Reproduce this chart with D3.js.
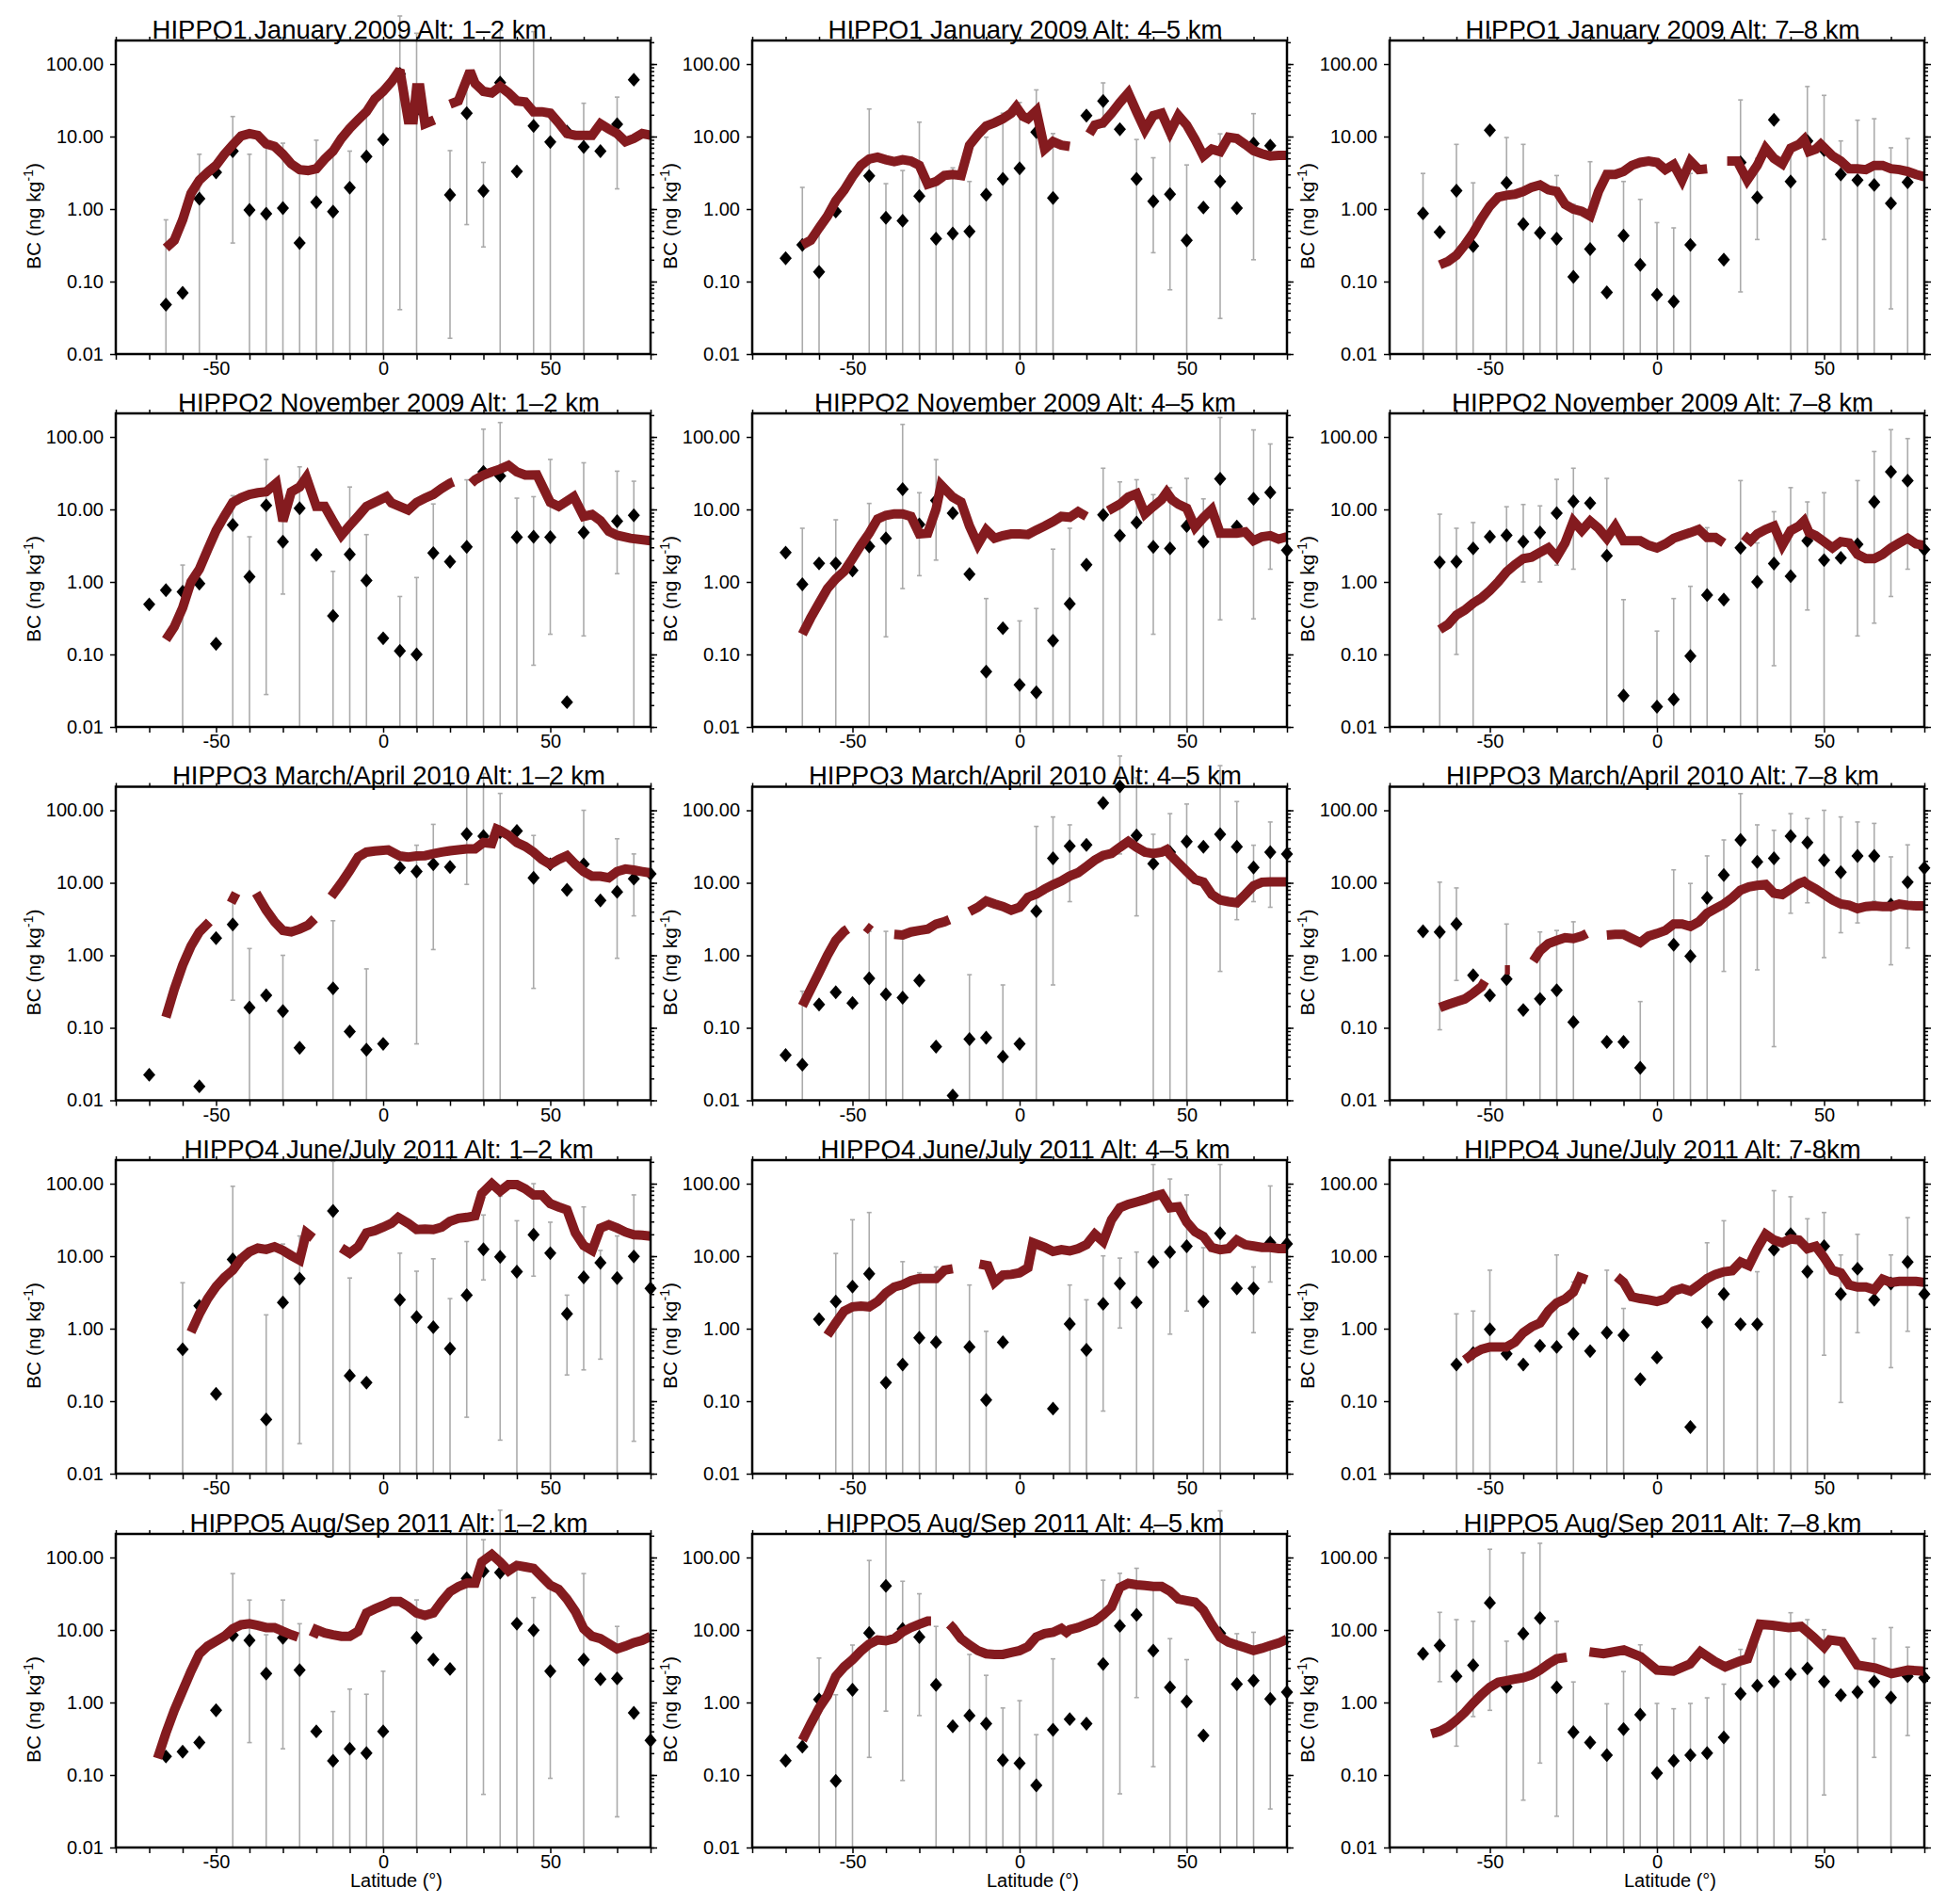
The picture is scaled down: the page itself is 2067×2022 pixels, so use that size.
<!DOCTYPE html>
<html><head><meta charset="utf-8">
<script src="https://cdn.jsdelivr.net/npm/d3@7"></script>
<style>body{margin:0;background:#fff}</style>
</head><body>
<svg id="c" width="2067" height="2022"></svg>
<script>
// ---------------- DATA ----------------
const titles = [
 "HIPPO1 January 2009 Alt: 1\u20132 km","HIPPO1 January 2009 Alt: 4\u20135 km","HIPPO1 January 2009 Alt: 7\u20138 km",
 "HIPPO2 November 2009 Alt: 1\u20132 km","HIPPO2 November 2009 Alt: 4\u20135 km","HIPPO2 November 2009 Alt: 7\u20138 km",
 "HIPPO3 March/April 2010 Alt: 1\u20132 km","HIPPO3 March/April 2010 Alt: 4\u20135 km","HIPPO3 March/April 2010 Alt: 7\u20138 km",
 "HIPPO4 June/July 2011 Alt: 1\u20132 km","HIPPO4 June/July 2011 Alt: 4\u20135 km","HIPPO4 June/July 2011 Alt: 7-8km",
 "HIPPO5 Aug/Sep 2011 Alt: 1\u20132 km","HIPPO5 Aug/Sep 2011 Alt: 4\u20135 km","HIPPO5 Aug/Sep 2011 Alt: 7\u20138 km"];
const yTickValues = [0.01, 0.1, 1, 10, 100];
const xTickValues = [-80,-70,-60,-50,-40,-30,-20,-10,0,10,20,30,40,50,60,70,80];
const xLabelValues = [-50, 0, 50];
const xLabel = "Latitude (\u00b0)";

// points: [lat, BC, errLow (0 = to axis), errHigh (null = no bar)]
const pts_h1_12 = [[-65,0.048,0,0.71],[-60,0.07,null,null],[-55,1.39,0,5.7],[-50,3.2,null,null],[-45,6.3,0.34,18.9],[-40,0.97,0,5.7],[-35,0.86,0,8.4],[-30,1.03,0,8.1],[-25,0.34,0,3.9],[-20,1.24,0,8.9],[-15,0.92,0,5.7],[-10,1.97,0,6.3],[-5,5.3,0,23],[0,9.1,0,40],[5,73,0.041,460],[10,23,0,266],[20,1.57,0.0165,6.4],[25,21,0.61,67],[30,1.78,0.30,4.4],[35,55.6,0,294],[40,3.3,null,null],[45,14,0,280],[50,8.4,0,19.3],[55,11.7,null,null],[60,7.2,0,28.8],[65,6.3,null,null],[70,14.8,1.9,35],[75,60.8,null,null]];
const line_h1_12 = [[-65,0.29],[-62.5,0.37],[-60,0.71],[-57.5,1.64],[-55,2.5],[-52.5,3.2],[-50,4.0],[-47.5,5.7],[-45,7.7],[-42.5,10.2],[-40,11],[-37.5,10.4],[-35,7.9],[-32.5,7.3],[-30,5.7],[-27.5,4.2],[-25,3.5],[-22.5,3.4],[-20,3.6],[-17.5,4.9],[-15,6.3],[-12.5,9.4],[-10,13],[-7.5,17],[-5,22],[-2.5,33],[0,42],[2.5,57],[5,83],[7.5,17],[9,17],[10,47],[11,47],[12.5,15],[15.3,17],null,[20,28],[22.5,31],[26,80],[27.5,54],[30,42],[32.5,40],[35,49],[37.5,40],[40,31],[42.5,30],[45,22],[47.5,22],[50,21],[52.5,15.5],[55,11],[57.5,10.4],[60,10.4],[62.5,10.4],[65,15],[67.5,12.7],[70,11],[72.5,8.5],[75,9.4],[77.5,11],[80,10.4]];

const pts_h1_45 = [[-70,0.21,null,null],[-65,0.32,0,1.99],[-60,0.136,0,0.63],[-55,0.93,null,null],[-45,2.86,0,24],[-40,0.76,0,2.24],[-35,0.69,0,3.4],[-30,1.51,0,15.8],[-25,0.39,0,2.4],[-20,0.46,0,3.7],[-15,0.49,0,2.4],[-10,1.58,0,9.8],[-5,2.6,0,21],[0,3.65,0,29.5],[5,11.5,0,44],[10,1.42,0,11],[20,19.5,null,null],[25,31,13.4,55],[30,12.6,null,null],[35,2.6,0,9.1],[40,1.28,0.25,5.1],[45,1.6,0.077,9.3],[50,0.37,0,4.06],[55,1.05,null,null],[60,2.4,0.031,10.9],[65,1.03,null,null],[70,8.0,0.2,20.7],[75,7.5,null,null]];
const line_h1_45 = [[-65,0.32],[-62.5,0.37],[-60,0.55],[-57.5,0.8],[-55,1.3],[-52.5,1.83],[-50,2.8],[-47.5,4.0],[-45,4.9],[-42.5,5.2],[-40,4.8],[-37.5,4.5],[-35,4.8],[-32.5,4.6],[-30,4.0],[-27.5,2.2],[-25,2.4],[-22.5,2.9],[-20,3.0],[-17.5,2.9],[-15,7.6],[-12.5,10.6],[-10,14],[-7.5,15.5],[-5,17.6],[-2.5,21],[-1,25.7],[1,19],[2.5,17.6],[5,22.7],[7.5,6.7],[10,8.5],[12.5,7.6],[15,7.3],null,[20.9,10.9],[22.5,14.4],[25,15.5],[27.5,21],[30,29.5],[32.5,40],[35,22],[37.5,12.4],[40,19.5],[42.5,21],[45,11.5],[47.5,19.5],[50,14.4],[52.5,9.1],[55,5.4],[57.5,6.7],[60,6.2],[62.5,9.8],[65,9.4],[67.5,7.8],[70,6.4],[72.5,5.8],[75,5.4],[77.5,5.5],[80,5.5]];

const pts_h1_78 = [[-70,0.87,0,3.1],[-65,0.48,null,null],[-60,1.79,0,7.8],[-55,0.31,0,2.3],[-50,12.2,null,null],[-45,2.3,0,9.7],[-40,0.62,0,7.8],[-35,0.47,0,2.15],[-30,0.39,0,2.9],[-25,0.116,0,1.16],[-20,0.28,0,4.5],[-15,0.071,null,null],[-10,0.43,0,2.4],[-5,0.17,0,1.36],[0,0.066,0,0.65],[5,0.053,0,0.55],[10,0.32,0,3.1],[20,0.2,null,null],[25,4.4,0.072,32],[30,1.44,0.38,5.0],[35,17,null,null],[40,2.4,0,6],[45,8.7,0,49],[50,6.5,0.38,37],[55,3.0,0,8.7],[60,2.5,0,16.8],[65,2.15,0,17.6],[70,1.2,0.042,7.0],[75,2.35,0,9.4]];
const line_h1_78 = [[-65,0.17],[-62.5,0.19],[-60,0.23],[-57.5,0.32],[-55,0.47],[-52.5,0.74],[-50,1.1],[-47.5,1.46],[-45,1.55],[-42.5,1.6],[-40,1.75],[-37.5,2.0],[-35,2.15],[-32.5,1.84],[-30,1.75],[-27.5,1.16],[-25,1.0],[-22.5,0.93],[-20,0.8],[-17.5,1.75],[-15,3.0],[-12.5,3.0],[-10,3.3],[-7.5,4.0],[-5,4.4],[-2.5,4.6],[0,4.4],[2.5,3.5],[5,4.1],[7.5,2.5],[10,4.6],[12.5,3.5],[15,3.6],null,[21,4.6],[24,4.6],[27,2.5],[30,4.0],[32.5,6.9],[35,5.0],[37.5,4.2],[40,6.9],[42.5,7.8],[44,9.1],[45.5,6.2],[47.5,6.7],[49,7.8],[52.5,5.4],[55,4.6],[57.5,3.6],[60,3.6],[62.5,3.5],[65,4.0],[67.5,4.0],[70,3.6],[72.5,3.5],[75,3.3],[77.5,3.0],[80,2.8]];

const pts_h2_12 = [[-70,0.49,null,null],[-65,0.77,null,null],[-60,0.73,0,1.71],[-55,0.95,null,null],[-50,0.14,null,null],[-45,6.1,0,15.5],[-40,1.18,0,4.2],[-35,11.4,0.028,49],[-30,3.6,0.68,6.9],[-25,10.4,0,38.7],[-20,2.36,null,null],[-15,0.34,0,1.4],[-10,2.4,0,20.4],[-5,1.05,0,4.5],[0,0.167,null,null],[5,0.112,0,0.63],[10,0.1,0,1.15],[15,2.5,0,11.9],[20,1.9,null,null],[25,3.05,0,25.6],[30,33,0,128],[35,29,0,158],[40,4.15,0,14.3],[45,4.2,0.071,15],[50,4.15,0.19,49],[55,0.022,null,null],[60,4.8,0.18,44],[70,6.9,1.3,33.7],[75,8.3,0,24.5]];
const line_h2_12 = [[-65,0.16],[-62.5,0.24],[-60,0.44],[-57.5,1.0],[-55,1.5],[-52.5,2.8],[-50,5.1],[-47.5,8.1],[-45,12.5],[-42.5,14.5],[-40,16.1],[-37.5,17],[-35,17.5],[-32,23],[-30,6.9],[-27.5,17.5],[-25,20.4],[-23,27.7],[-20,11],[-17.5,11],[-15,6.9],[-12.5,4.4],[-10,6],[-7.5,8.1],[-5,11],[-2.5,12.5],[1,15],[2.5,12.3],[5,11],[7.5,9.8],[10,12.5],[12.5,14.3],[15,16.1],[17.5,19.5],[20,23],[21,24],null,[26.4,23],[27.5,25.6],[30,29.8],[32.5,33],[35,36],[37.5,40.5],[40,33],[42.5,29.8],[46,30],[50,12.5],[52.5,11],[57,15],[60,8],[62.5,8.5],[65,7],[67.5,5],[70,4.4],[74,4.0],[80,3.7]];

const pts_h2_45 = [[-70,2.54,null,null],[-65,0.93,0,5.5],[-60,1.8,null,null],[-55,1.8,0,7.2],[-50,1.44,null,null],[-45,3.1,0,12.1],[-40,4.0,0.175,8.9],[-35,19,0.81,149],[-30,6.2,1.22,17],[-25,13.3,2.0,48.7],[-20,8.9,null,null],[-15,1.28,null,null],[-10,0.058,0,0.59],[-5,0.23,null,null],[0,0.038,0,0.29],[5,0.030,0,0.43],[10,0.155,0,2.83],[15,0.5,0,5.5],[20,1.73,null,null],[25,8.4,0,37],[30,4.35,0,24],[35,6.6,0,25.7],[40,3.05,0.19,16],[45,2.9,0,20],[50,5.9,0,26.8],[55,3.6,0,14],[60,26.4,0.3,185],[65,5.8,null,null],[70,14,0.31,125],[75,17.2,1.5,80],[80,2.75,null,null]];
const line_h2_45 = [[-65,0.19],[-62.5,0.32],[-60,0.51],[-57.5,0.81],[-55,1.1],[-52.5,1.4],[-50,2.1],[-47.5,3.2],[-45,4.7],[-42.5,7.4],[-40,8.3],[-37.5,8.7],[-35,8.7],[-32.5,8.0],[-30,4.6],[-27.5,4.7],[-25,10.1],[-23.5,21.7],[-20,14.8],[-17.5,12.7],[-15,5.9],[-12.5,3.3],[-10,5.2],[-7.5,4.0],[-5,4.35],[-2.5,4.6],[0,4.6],[2.5,4.5],[5,5.2],[7.5,5.9],[10,6.8],[12.5,8.0],[15,7.8],[17.5,9.3],[20,8.0],null,[26.5,9.6],[30,11.8],[32.5,14.8],[35,16.5],[37.5,8.7],[40,11],[42.5,13.7],[44,17.2],[45.5,13.7],[47.5,11.8],[50,10.4],[52.5,5.7],[55,7.7],[57.5,10],[60,4.7],[62.5,4.7],[65,4.7],[67.5,4.9],[70,3.7],[72.5,4.2],[75,4.35],[77.5,3.9],[80,4.2]];

const pts_h2_78 = [[-65,1.87,0,8.6],[-60,1.9,0.1,5.5],[-55,2.9,0,6.6],[-50,4.2,null,null],[-45,4.4,1.49,10.9],[-40,3.6,1.0,11.7],[-35,4.8,1.0,11.2],[-30,8.9,1.7,26],[-25,12.9,1.5,37],[-20,12.2,null,null],[-15,2.3,0,26.8],[-10,0.027,0,0.57],[0,0.019,0,0.21],[5,0.024,0,0.59],[10,0.095,0,0.87],[15,0.66,0,5.6],[20,0.57,null,null],[25,2.95,0,25],[30,1.0,0,3.45],[35,1.79,0.07,9.3],[40,1.2,0,20],[45,3.7,0.41,12.7],[50,2.0,0,17],[55,2.15,null,null],[60,3.3,0.18,25],[65,12.7,0.27,63],[70,33,0.63,126],[75,25,1.5,95],[80,2.8,null,null]];
const line_h2_78 = [[-65,0.22],[-62.5,0.26],[-60,0.35],[-57.5,0.41],[-55,0.51],[-52.5,0.6],[-50,0.76],[-47.5,1.0],[-45,1.38],[-42.5,1.73],[-40,2.1],[-37.5,2.2],[-35,2.55],[-32.5,2.95],[-30,2.2],[-27.5,3.45],[-25,6.9],[-22.5,5.1],[-20,6.9],[-17.5,5.5],[-15,4.0],[-12.5,5.9],[-10,3.7],[-7.5,3.7],[-5,3.7],[-2.5,3.2],[0,2.95],[2.5,3.35],[5,4.0],[7.5,4.4],[10,4.8],[12.5,5.3],[15,4.1],[17.5,4.1],[20,3.45],null,[26,4.4],[28,3.7],[30,4.6],[32.5,5.3],[35,5.9],[37.5,3.2],[40,5.1],[42.5,5.9],[44,6.9],[45.5,4.8],[47.5,4.35],[50,3.6],[52.5,2.95],[55,3.6],[57.5,3.45],[60,2.4],[62.5,2.1],[65,2.1],[67.5,2.4],[70,2.95],[72.5,3.45],[75,4.0],[77.5,3.35],[80,3.2]];

const pts_h3_12 = [[-70,0.0225,null,null],[-55,0.0156,null,null],[-50,1.73,null,null],[-45,2.66,0.24,6.9],[-40,0.19,0,1.24],[-35,0.28,null,null],[-30,0.17,0,1.0],[-25,0.053,null,null],[-15,0.35,0,3.0],[-10,0.089,null,null],[-5,0.05,0,0.65],[0,0.06,null,null],[5,16.2,null,null],[10,14.3,0.06,33],[15,18,1.2,64],[20,16.5,null,null],[25,47,9.5,300],[30,44,0,320],[35,50,0,171],[40,52,null,null],[45,11.7,0.35,45],[50,18,null,null],[55,8.0,null,null],[60,18,0,100],[65,5.7,null,null],[70,7.5,0.91,40.5],[75,11.4,3.5,25],[80,13.3,null,null]];
const line_h3_12 = [[-65,0.14],[-62.5,0.34],[-60,0.73],[-57.5,1.34],[-55,2.1],[-52,2.9],null,[-45.5,5.3],[-44,7.2],null,[-38,7.2],[-35,4.2],[-32.5,2.9],[-30,2.2],[-27.5,2.1],[-25,2.3],[-22.5,2.6],[-20.5,3.2],null,[-15.5,6.5],[-12.5,10],[-10,14.8],[-7.5,22.7],[-5,26.5],[-2.5,27.5],[1.5,28.5],[5,23.4],[7.5,22.7],[10,23.4],[12.5,23.7],[15,25.2],[17.5,26.5],[20,27.7],[22.5,28.5],[25,29.4],[27.5,29.4],[30,36],[32.5,34.8],[34,55],[35,52.5],[37.5,45],[40,36],[42.5,31.7],[45,26.5],[47.5,21],[50,18],[52.5,21],[55,23.7],[57.5,18],[60,14.3],[62.5,12.3],[65,12.3],[67.5,11.7],[70,14.3],[72.5,15.5],[75,15],[77.5,14.3],[80,13.7]];

const pts_h3_45 = [[-70,0.042,null,null],[-65,0.031,0,0.32],[-60,0.21,null,null],[-55,0.31,null,null],[-50,0.22,null,null],[-45,0.48,0,2.14],[-40,0.29,0,2.14],[-35,0.26,0,1.7],[-30,0.45,null,null],[-25,0.055,null,null],[-20,0.0116,null,null],[-15,0.07,0,0.54],[-10,0.073,null,null],[-5,0.04,0,0.39],[0,0.06,null,null],[5,4.06,0,60],[10,21.8,0.39,81],[15,32,5.5,63],[20,33.4,null,null],[25,126,null,null],[30,214,25,560],[35,45,3.5,282],[40,18.4,0,46.7],[45,26.5,0,90],[50,37,0,122],[55,31.4,null,null],[60,46.7,0.6,413],[65,31.4,3.1,132],[70,16.3,5.5,33],[75,26.5,4.6,69],[80,25,null,null]];
const line_h3_45 = [[-65,0.2],[-62.5,0.34],[-60,0.58],[-57.5,1.0],[-55,1.6],[-52.5,2.14],[-51.5,2.3],null,[-46,2.5],[-44.5,2.2],null,[-37.5,1.94],[-35,1.9],[-32.5,2.1],[-30,2.2],[-27.5,2.3],[-25,2.7],[-22.5,2.9],[-21,3.1],null,[-15,4.0],[-12.5,4.6],[-10,5.6],[-7.5,5.1],[-5,4.7],[-2.5,4.2],[0,4.6],[2.5,6.3],[5,7.0],[7.5,8.2],[10,9.4],[12.5,10.6],[15,12.4],[17.5,13.8],[20,16.8],[22.5,20.5],[25,23.9],[27.5,25.4],[30,30.9],[32.5,37.2],[35,30.9],[37.5,26.5],[40,25.4],[42.5,26.5],[44,28.6],[45,24.5],[47.5,18.7],[50,14.4],[52.5,11.1],[55,10.2],[57.5,6.9],[60,5.8],[62.5,5.5],[65,5.3],[67.5,6.9],[70,9.1],[72.5,10.2],[75,10.3],[77.5,10.3],[80,10.3]];

const pts_h3_78 = [[-70,2.14,null,null],[-65,2.1,0.094,10.2],[-60,2.7,0.45,8.5],[-55,0.53,null,null],[-50,0.28,null,null],[-45,0.47,0,2.7],[-40,0.176,null,null],[-35,0.25,0,2.1],[-30,0.33,0,2.2],[-25,0.12,0,2.9],[-15,0.064,null,null],[-10,0.064,null,null],[-5,0.028,0,0.23],[5,1.4,0,15.1],[10,0.97,0,9.8],[15,6.2,0,23.5],[20,12.8,0.6,39],[25,39,0,170],[30,19.5,0.63,63],[35,21.8,0.055,53],[40,44,3.8,90],[45,36,5.3,77],[50,20.5,0.93,100],[55,14,2.05,81],[60,23.5,2.8,69],[65,23.5,5.6,66],[70,5.0,0.74,22.8],[75,10.2,1.26,33.4],[80,16,null,null]];
const line_h3_78 = [[-65,0.19],[-62.5,0.21],[-60,0.23],[-57.5,0.25],[-55,0.3],[-52.5,0.37],[-51.5,0.44],null,[-45.5,0.63],[-44,0.63],null,[-37,0.83],[-35,1.15],[-32.5,1.45],[-30,1.6],[-27.5,1.75],[-25,1.7],[-22.5,1.84],[-21,2.0],null,[-15,1.9],[-12.5,1.94],[-10,1.94],[-7.5,1.7],[-5,1.5],[-2.5,1.84],[0,2.0],[2.5,2.2],[5,2.7],[7.5,2.7],[10,2.5],[12.5,2.9],[15,3.8],[17.5,4.4],[20,5.1],[22.5,6.2],[25,7.9],[27.5,8.8],[30,9.2],[32.5,9.5],[35,7.2],[37.5,6.9],[40,8.2],[42.5,9.8],[44,10.4],[45,9.5],[47.5,8.2],[50,6.9],[52.5,5.8],[55,5.1],[57.5,4.9],[60,4.4],[62.5,4.7],[65,4.8],[67.5,4.7],[70,4.7],[72.5,5.1],[75,4.9],[77.5,4.8],[80,4.8]];

const pts_h4_12 = [[-60,0.52,0,4.3],[-55,2.06,null,null],[-50,0.126,null,null],[-45,9.0,0,92],[-35,0.056,0,1.55],[-30,2.3,0,14.7],[-25,4.9,0.026,19],[-15,42,0,203],[-10,0.225,0,5.0],[-5,0.18,null,null],[5,2.5,0,11],[10,1.44,0,6.2],[15,1.05,0,9.2],[20,0.53,0,2.6],[25,2.9,0.06,15.9],[30,12.4,4.7,37],[35,9.8,0.029,67],[40,6.1,0,30.8],[45,19.8,5.3,100],[50,11,0,29.4],[55,1.6,0.23,2.9],[60,5.1,0.27,47.8],[65,8.1,0.38,12],[70,5.0,0,19],[75,9.9,0.028,70],[80,3.6,null,null]];
const line_h4_12 = [[-57.5,0.9],[-55,1.6],[-52.5,2.6],[-50,3.8],[-47.5,5.1],[-45,6.4],[-42.5,9.2],[-40,11.5],[-37.5,12.9],[-35,12.4],[-32.5,13.5],[-30,12],[-27.5,10.2],[-25,8.8],[-23,21],[-21,17.8],null,[-12.5,13],[-10,11],[-7.5,13.5],[-5,21],[-2.5,22.5],[0,25.1],[2.5,28.4],[4.5,34.3],[7.5,28.4],[10,23.3],[12.5,23.6],[15,23.3],[17.5,25.1],[20,30.3],[22.5,33.3],[25,34.3],[27.5,36],[29.5,73],[32.5,100],[35,79],[37.5,97],[40,97],[42.5,85],[45,70],[47.5,70],[50,53],[52.5,47.8],[55,43.5],[57.5,21],[60,14],[62.5,12],[65,24.4],[67.5,27.2],[70,24.4],[72.5,21.5],[75,19.8],[77.5,19.5],[80,18.9]];

const pts_h4_45 = [[-60,1.35,null,null],[-55,2.37,0,10.9],[-50,3.8,0,31.8],[-45,5.7,0,40],[-40,0.18,0,3.0],[-35,0.32,0,8.4],[-30,0.75,0,5.9],[-25,0.65,0,7.1],[-15,0.56,0,4.0],[-10,0.104,0,0.92],[-5,0.65,null,null],[10,0.079,null,null],[15,1.16,0,4.0],[20,0.51,0,2.5],[25,2.2,0.073,10.1],[30,4.2,1.02,9.4],[35,2.3,0,11.4],[40,8.3,0,184],[45,11.4,0.84,116],[50,13.7,1.75,70],[55,2.37,0,13.1],[60,20.7,0,184],[65,3.6,null,null],[70,3.6,0.88,7.1],[75,15.3,4.4,93],[80,14.8,null,null]];
const line_h4_45 = [[-57.5,0.81],[-55,1.2],[-52.5,1.75],[-50,2.0],[-47.5,2.05],[-45,2.0],[-42.5,2.37],[-40,3.1],[-37.5,3.75],[-35,4.05],[-32.5,4.6],[-30,4.9],[-27.5,4.9],[-25,4.9],[-22.5,6.4],[-20,6.7],null,[-12,7.8],[-9.5,7.4],[-7.5,4.35],[-5,5.5],[-2.5,5.6],[0,5.9],[2.5,6.9],[4,15.3],[7.5,13.3],[10,11.6],[12.5,12.3],[15,11.8],[17.5,12.7],[20,14.4],[22.5,20.1],[25,15.9],[27.5,31.8],[30,46.6],[32.5,51.9],[35,55.9],[37.5,60.4],[40,66.2],[42.5,71.5],[45,46.6],[47.5,48.1],[50,29.5],[52.5,21.7],[55,18.7],[57.5,13.2],[60,12.3],[62.5,12.7],[65,16.7],[67.5,14.4],[70,13.8],[72.5,13.2],[75,13.2],[77.5,12.7],[80,12.7]];

const pts_h4_78 = [[-60,0.32,0,1.6],[-55,0.46,0,1.75],[-50,0.98,0,6.4],[-45,0.45,null,null],[-40,0.32,null,null],[-35,0.58,null,null],[-30,0.56,0,10.4],[-25,0.85,0,4.4],[-20,0.49,null,null],[-15,0.88,0,6.4],[-10,0.81,0,1.9],[-5,0.2,null,null],[0,0.4,null,null],[10,0.044,null,null],[15,1.23,0,15.3],[20,3.0,0,30.8],[25,1.15,null,null],[30,1.15,0,6.1],[35,12.3,0,80],[40,20.1,0,66],[45,6.1,0,32.8],[50,13.7,0.43,40],[55,3.0,0.096,10.4],[60,6.7,0.88,20],[65,2.5,null,null],[70,4.2,0.29,10.4],[75,8.3,0.92,34],[80,3.0,null,null]];
const line_h4_78 = [[-57.5,0.37],[-55,0.45],[-52.5,0.52],[-50,0.56],[-47.5,0.56],[-45,0.56],[-42.5,0.65],[-40,0.88],[-37.5,1.06],[-35,1.2],[-32.5,1.75],[-30,2.27],[-27.5,2.56],[-25,3.2],[-23,5.1],[-21,4.7],null,[-12,5.2],[-10,4.35],[-7.5,2.75],[-5,2.6],[-2.5,2.5],[0,2.37],[2.5,2.56],[5,3.3],[7.5,3.6],[10,3.3],[12.5,4.0],[15,4.9],[17.5,5.6],[20,6.1],[22.5,6.3],[25,8.3],[27.5,7.4],[30,12.7],[32.5,20.1],[35,16.7],[37.5,15.3],[40,17.3],[42.5,16.7],[45,12.7],[47.5,13.7],[50,9.6],[52.5,6.4],[55,5.9],[57.5,4.0],[60,3.75],[62.5,3.75],[65,3.45],[67.5,4.8],[70,4.35],[72.5,4.5],[75,4.5],[77.5,4.5],[80,4.35]];

const pts_h5_12 = [[-65,0.18,null,null],[-60,0.21,null,null],[-55,0.28,null,null],[-50,0.78,null,null],[-45,8.5,0,60],[-40,7.2,0.28,25.9],[-35,2.5,0,8.6],[-30,7.8,0.23,25.9],[-25,2.8,0,12.2],[-20,0.4,null,null],[-15,0.157,0,0.75],[-10,0.23,0,1.53],[-5,0.2,0,1.3],[0,0.4,0,2.7],[10,7.8,0,26],[15,3.9,null,null],[20,2.9,null,null],[25,51.6,0,241],[30,65,0.054,176],[35,62,0,450],[40,12.2,0,70],[45,9.9,0,28],[50,2.7,0.09,40],[60,3.9,0,60],[65,2.1,null,null],[70,2.15,0.0265,11.2],[75,0.72,null,null],[80,0.3,null,null]];
const line_h5_12 = [[-67.5,0.17],[-65,0.38],[-62.5,0.78],[-60,1.45],[-57.5,2.7],[-55,4.7],[-52.5,6.0],[-50,7.0],[-47.5,8.2],[-45,10.4],[-42.5,11.8],[-40,12.2],[-37.5,11.6],[-35,10.8],[-32.5,10.8],[-30,9.6],[-27.5,8.6],[-25.5,8.0],null,[-21,8.0],[-20,10.1],[-17.5,9.1],[-15,8.6],[-12.5,8.2],[-10,8.2],[-7.5,9.6],[-5,17.2],[-2.5,19.5],[0,21.8],[2.5,24.7],[5,24.7],[7.5,21.1],[10,17.2],[12.5,15.9],[15,17.2],[17.5,24.7],[20,33.8],[22.5,39.6],[25,44.2],[27.5,44.2],[29.5,86.8],[32.5,110],[35,86.8],[37.5,65.4],[40,77.8],[42.5,74.2],[45,70.8],[47.5,54.2],[50,41.5],[52.5,36.5],[55,26.7],[57.5,18],[60,10.4],[62.5,8.2],[65,7.6],[67.5,6.5],[70,5.5],[72.5,6.0],[75,6.7],[77.5,7.2],[80,8.2]];

const pts_h5_45 = [[-70,0.158,null,null],[-65,0.246,null,null],[-60,1.1,0,4.1],[-55,0.083,0,1.28],[-50,1.5,0,6.2],[-45,9.1,0.175,91],[-40,40.6,0.76,241],[-35,10.3,0.084,47],[-30,8.0,0.66,31.6],[-25,1.75,0,11.2],[-20,0.47,null,null],[-15,0.66,0,4.6],[-10,0.51,0,2.37],[-5,0.16,0,0.84],[0,0.145,0,1.06],[5,0.072,0,0.36],[10,0.42,0,4.0],[15,0.59,null,null],[20,0.51,null,null],[25,3.4,0,48.6],[30,11.4,0.055,60.6],[35,16.2,1.17,71],[40,5.2,0.13,39.8],[45,1.62,0,7.6],[50,1.03,0,3.9],[55,0.35,null,null],[60,9,0,440],[65,1.79,0,8.9],[70,2.0,0,9.3],[75,1.12,0.034,5.9],[80,1.39,null,null]];
const line_h5_45 = [[-65,0.3],[-62.5,0.51],[-60,0.84],[-57.5,1.25],[-55,2.3],[-52.5,3.1],[-50,3.9],[-47.5,5.1],[-45,6.4],[-42.5,7.3],[-40,7.1],[-37.5,7.6],[-35,9.4],[-32.5,10.8],[-30,12],[-27.5,13.3],[-26.5,13.3],null,[-21,12],[-20,10.8],[-17.5,7.6],[-15,6.2],[-12.5,5.2],[-10,4.7],[-7.5,4.6],[-5,4.6],[-2.5,4.9],[0,5.2],[2.5,5.9],[5,8.0],[7.5,8.9],[10,9.3],[12.5,10.5],[14,9.3],[15,10.1],[17.5,10.8],[20,12],[22.5,13.3],[25,16.2],[27.5,20.8],[30,38.6],[32.5,44],[35,42],[37.5,41],[40,39.8],[42.5,39.8],[45,34.3],[47.5,26.7],[50,25.4],[52.5,24.2],[55,18.8],[57.5,12],[60,8.0],[62.5,6.8],[65,6.2],[67.5,5.7],[70,5.2],[72.5,5.6],[75,6.1],[77.5,6.6],[80,7.5]];

const pts_h5_78 = [[-70,4.7,null,null],[-65,6.1,1.94,17.5],[-60,2.3,0.25,13.9],[-55,3.26,0.64,13.2],[-50,23.7,0.78,130],[-45,1.65,0,7.0],[-40,8.9,0.045,116],[-35,14.6,0.146,157],[-30,1.62,0.027,13.2],[-25,0.39,0,1.92],[-20,0.28,null,null],[-15,0.188,0,0.96],[-10,0.43,0,2.67],[-5,0.68,0,6.25],[0,0.106,0,0.97],[5,0.157,0,0.82],[10,0.188,0,0.97],[15,0.2,0,1.16],[20,0.33,0,1.79],[25,1.32,0,5.4],[30,1.7,0,12],[35,1.94,0,10.8],[40,2.46,0,17.3],[45,2.95,0,13.9],[50,1.94,0.053,10.1],[55,1.26,null,null],[60,1.39,0,3.4],[65,1.94,0.175,7.6],[70,1.17,0,10.8],[75,2.3,0.35,5.8],[80,2.2,null,null]];
const line_h5_78 = [[-67.5,0.37],[-65,0.4],[-62.5,0.46],[-60,0.57],[-57.5,0.73],[-55,0.98],[-52.5,1.28],[-50,1.62],[-47.5,1.9],[-45,2.0],[-42.5,2.1],[-40,2.2],[-37.5,2.4],[-35,2.8],[-32.5,3.4],[-30,4.0],[-27,4.2],null,[-20.2,5.0],[-16,4.7],[-9.9,5.3],[-4.9,4.3],[0,2.8],[4.9,2.7],[9.9,3.4],[13,5.0],[17.2,3.7],[20.4,3.1],[24.6,3.7],[27.1,4.0],[30.8,12],[34.5,11.6],[39.4,10.8],[43.1,11.2],[46.8,8.0],[50,5.8],[51.7,7.3],[55.4,6.9],[59.9,3.3],[65.3,3.0],[70.2,2.5],[75.1,2.8],[80,2.7]];

const pointSets = [pts_h1_12,pts_h1_45,pts_h1_78,pts_h2_12,pts_h2_45,pts_h2_78,pts_h3_12,pts_h3_45,pts_h3_78,pts_h4_12,pts_h4_45,pts_h4_78,pts_h5_12,pts_h5_45,pts_h5_78];
const lineSets = [line_h1_12,line_h1_45,line_h1_78,line_h2_12,line_h2_45,line_h2_78,line_h3_12,line_h3_45,line_h3_78,line_h4_12,line_h4_45,line_h4_78,line_h5_12,line_h5_45,line_h5_78];

// ---------------- LAYOUT ----------------
const colX = [123, 799, 1476];
const rowY = [43, 439, 835.5, 1232, 1629];
const PW = 568, PH = 333;
const YMAX = Math.pow(10, 2.325);
const FONT = "'Liberation Sans', Arial, Helvetica, sans-serif";
const LINE_COLOR = "#841b1f";

const svg = d3.select("#c");
svg.append("rect").attr("width", 2067).attr("height", 2022).attr("fill", "#fff");

const minorTicks = [];
[0.01, 0.1, 1, 10, 100].forEach(d => { for (let k = 1; k <= 9; k++) { const v = d * k; if (v <= YMAX) minorTicks.push(v); } });

const fmt = d3.format(".2f");
const lineGen = d3.line().defined(d => d !== null);

titles.forEach((title, i) => {
  const r = Math.floor(i / 3), c = i % 3;
  const left = colX[c], top = rowY[r];
  const x = d3.scaleLinear().domain([-80, 80]).range([left, left + PW]);
  const y = d3.scaleLog().domain([0.01, YMAX]).range([top + PH, top]);
  const g = svg.append("g");
  const pts = pointSets[i];
  const bars = pts.filter(d => d[3] !== null);

  // error bars
  const eb = g.append("g").attr("stroke", "#ababab").attr("stroke-width", 1.6);
  eb.selectAll("line.v").data(bars).join("line")
    .attr("x1", d => x(d[0])).attr("x2", d => x(d[0]))
    .attr("y1", d => y(Math.max(d[2], 0.01))).attr("y2", d => y(d[3]));
  eb.selectAll("line.t").data(bars).join("line")
    .attr("x1", d => x(d[0]) - 2.5).attr("x2", d => x(d[0]) + 2.5)
    .attr("y1", d => y(d[3])).attr("y2", d => y(d[3]));
  eb.selectAll("line.b").data(bars.filter(d => d[2] > 0.01)).join("line")
    .attr("x1", d => x(d[0]) - 2.5).attr("x2", d => x(d[0]) + 2.5)
    .attr("y1", d => y(d[2])).attr("y2", d => y(d[2]));

  // diamonds
  const sym = d3.symbol().type(d3.symbolSquare).size(84);
  g.append("g").selectAll("path").data(pts).join("path")
    .attr("d", sym)
    .attr("transform", d => `translate(${x(d[0])},${y(d[1])}) scale(1,1.15) rotate(45)`)
    .attr("fill", "#000");

  // model line
  lineGen.x(d => x(d[0])).y(d => y(d[1]));
  g.append("path").datum(lineSets[i])
    .attr("d", lineGen)
    .attr("fill", "none").attr("stroke", LINE_COLOR).attr("stroke-width", 10)
    .attr("stroke-linejoin", "miter").attr("stroke-miterlimit", 2.5).attr("stroke-linecap", "butt");

  // axes
  const axStyle = sel => {
    sel.select(".domain").remove();
    sel.selectAll("line").attr("stroke", "#000").attr("stroke-width", 1.5);
    sel.selectAll("text").attr("font-family", FONT).attr("font-size", 20).attr("fill", "#000");
  };
  g.append("g").attr("transform", `translate(${left},0)`)
    .call(d3.axisLeft(y).tickValues(yTickValues).tickFormat(fmt).tickSize(6).tickPadding(7)).call(axStyle);
  g.append("g").attr("transform", `translate(${left + PW},0)`)
    .call(d3.axisRight(y).tickValues(minorTicks).tickFormat("").tickSize(4)).call(axStyle);
  g.append("g").attr("transform", `translate(${left + PW},0)`)
    .call(d3.axisRight(y).tickValues(yTickValues).tickFormat("").tickSize(7)).call(axStyle);
  g.append("g").attr("transform", `translate(0,${top + PH})`)
    .call(d3.axisBottom(x).tickValues(xTickValues).tickFormat(d => xLabelValues.includes(d) ? String(d) : "").tickSize(6).tickPadding(2)).call(axStyle);
  g.append("g").attr("transform", `translate(0,${top})`)
    .call(d3.axisTop(x).tickValues(xTickValues).tickFormat("").tickSize(4)).call(axStyle);

  // frame
  g.append("rect").attr("x", left).attr("y", top).attr("width", PW).attr("height", PH)
    .attr("fill", "none").attr("stroke", "#000").attr("stroke-width", 2.5);

  // title
  const tOff = (i === 0) ? -36 : 6;
  g.append("text").attr("x", left + PW / 2 + tOff).attr("y", top - 2.5)
    .attr("text-anchor", "middle").attr("font-family", FONT).attr("font-size", 27.5)
    .attr("fill", "#000").text(title);

  // y label
  const yl = g.append("text").attr("transform", `translate(${left - 80},${top + PH * 0.56}) rotate(-90)`)
    .attr("text-anchor", "middle").attr("font-family", FONT).attr("font-size", 21).attr("fill", "#000");
  yl.append("tspan").text("BC (ng kg");
  yl.append("tspan").attr("baseline-shift", "super").attr("font-size", 14).text("-1");
  yl.append("tspan").text(")");

  // x label (bottom row)
  if (r === 4) {
    g.append("text").attr("x", left + PW / 2 + 14).attr("y", top + PH + 42)
      .attr("text-anchor", "middle").attr("font-family", FONT).attr("font-size", 20)
      .attr("fill", "#000").text(xLabel);
  }
});
</script>
</body></html>
